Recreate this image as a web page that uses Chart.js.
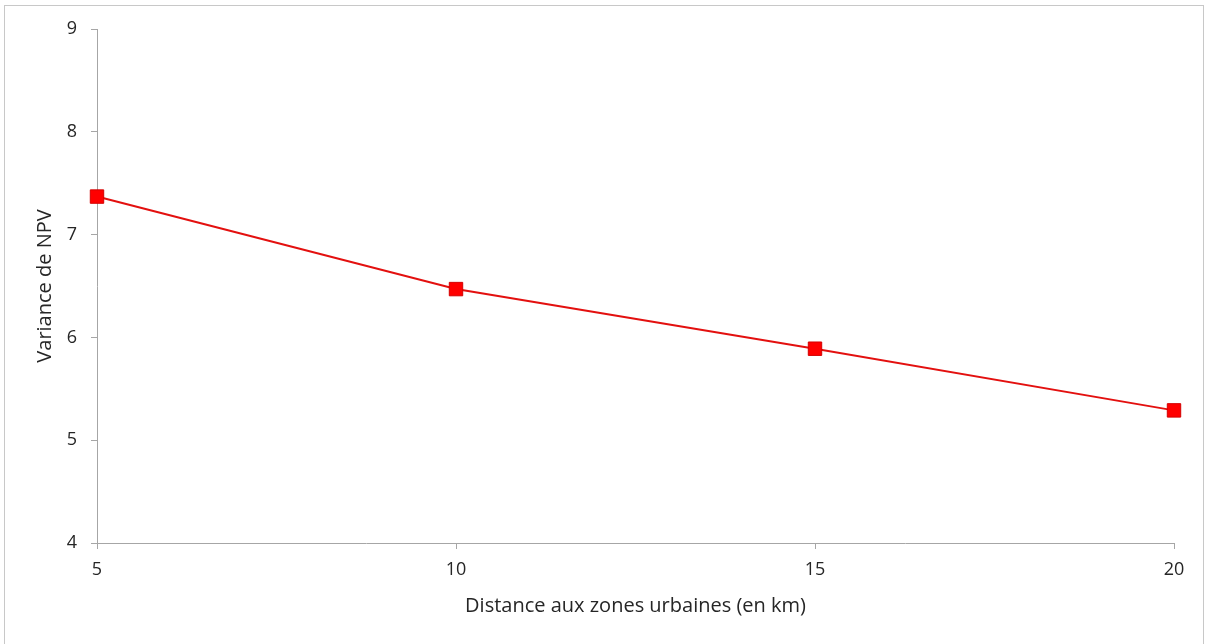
<!DOCTYPE html>
<html>
<head>
<meta charset="utf-8">
<script src="https://cdn.jsdelivr.net/npm/chart.js@4"></script>
<style>
  html, body { margin: 0; padding: 0; background: #fff; }
  #wrap { position: relative; width: 1209px; height: 644px; }
  #frame { position: absolute; left: 4px; top: 5px; width: 1200px; height: 645px; border: 1px solid #c8c8c8; box-sizing: border-box; }
  canvas { position: absolute; left: 0; top: 0; }
</style>
</head>
<body>
<div id="wrap">
  <div id="frame"></div>
  <canvas id="chart" width="1209" height="644"></canvas>
</div>
<script>
// data
const distances = [5, 10, 15, 20];
const variances = [7.37, 6.47, 5.89, 5.29];
const xTicks = [5, 10, 15, 20];
const yTicks = [4, 5, 6, 7, 8, 9];

const xTitle = 'Distance aux zones urbaines (en km)';
const yTitle = 'Variance de NPV';

const FONT = '"Open Sans", "Liberation Sans", sans-serif';
const axisGrey = '#a6a6a6';
const textColor = '#262626';

const points = distances.map((d, i) => ({ x: d, y: variances[i] }));

new Chart(document.getElementById('chart'), {
    type: 'line',
    data: {
        datasets: [{
            data: points,
            borderColor: '#e3100f',
            borderWidth: 2,
            backgroundColor: '#ff0000',
            pointStyle: 'rect',
            pointRadius: 9.5,
            pointBorderColor: '#d40000',
            pointBorderWidth: 1,
            tension: 0,
            fill: false,
            clip: false
        }]
    },
    options: {
        responsive: false,
        animation: false,
        layout: { padding: { left: 29, right: 35, top: 29, bottom: 22 } },
        plugins: { legend: { display: false }, tooltip: { enabled: false } },
        scales: {
            x: {
                type: 'linear',
                min: 5,
                max: 20,
                afterBuildTicks: axis => { axis.ticks = xTicks.map(v => ({ value: v })); },
                afterFit: axis => { axis.height = 79; },
                grid: { drawOnChartArea: false, color: axisGrey, tickLength: 6 },
                border: { color: axisGrey, width: 1 },
                ticks: { color: textColor, font: { family: FONT, size: 18 }, padding: 10, maxRotation: 0 },
                title: { display: true, text: xTitle, color: textColor, font: { family: FONT, size: 20 } }
            },
            y: {
                min: 4,
                max: 9,
                afterBuildTicks: axis => { axis.ticks = yTicks.map(v => ({ value: v })); },
                afterFit: axis => { axis.width = 68; },
                grid: { drawOnChartArea: false, color: axisGrey, tickLength: 6 },
                border: { color: axisGrey, width: 1 },
                ticks: { color: textColor, font: { family: FONT, size: 18 }, padding: 14 },
                title: { display: true, text: yTitle, color: textColor, font: { family: FONT, size: 20 } }
            }
        }
    }
});
</script>
</body>
</html>
